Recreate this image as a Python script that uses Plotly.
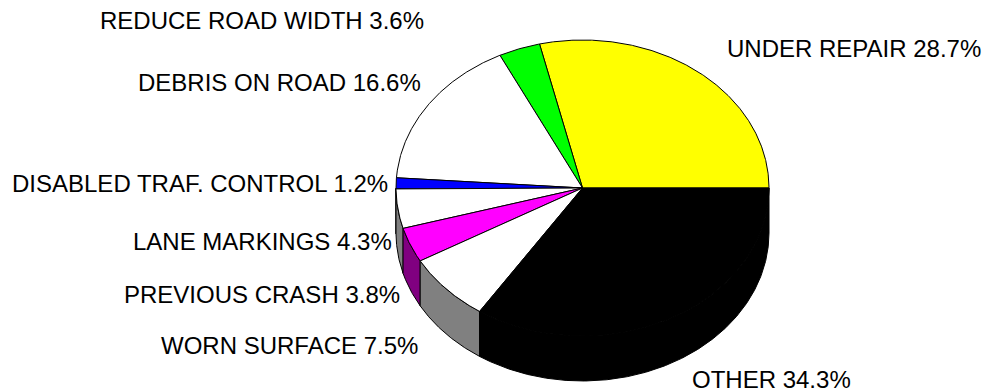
import numpy as np
import plotly.graph_objects as go

# Road-condition factors, in drawing order (counter-clockwise from 3 o'clock)
categories = ["UNDER REPAIR", "REDUCE ROAD WIDTH", "DEBRIS ON ROAD", "DISABLED TRAF. CONTROL",
              "LANE MARKINGS", "PREVIOUS CRASH", "WORN SURFACE", "OTHER"]
shares = [28.7, 3.6, 16.6, 1.2, 4.3, 3.8, 7.5, 34.3]
top_colors = ["#FFFF00", "#00FF00", "#FFFFFF", "#0000FF", "#FFFFFF", "#FF00FF", "#FFFFFF", "#000000"]
side_colors = ["#808000", "#008000", "#808080", "#000080", "#808080", "#800080", "#808080", "#000000"]

# label placement (pixel space): x, y, anchor
label_pos = [(726, 48, "left"), (425, 20, "right"), (422, 82, "right"), (389, 183, "right"),
             (393, 241, "right"), (401, 294, "right"), (419, 345, "right"), (691, 379, "left")]

W, H = 984, 391
CX, CY, RX, RY, DEPTH = 582.5, 188.0, 186.5, 148.0, 45.0


def ell(theta_deg, dy=0.0):
    t = np.radians(theta_deg)
    return CX + RX * np.cos(t), CY - RY * np.sin(t) + dy


fig = go.Figure()

total = sum(shares)
bounds = np.concatenate([[0.0], np.cumsum(shares) / total * 360.0])

# side walls (only the front half, 180..360 degrees, is visible)
for i in range(len(shares)):
    a1, a2 = max(bounds[i], 180.0), min(bounds[i + 1], 360.0)
    if a2 <= a1:
        continue
    th = np.linspace(a1, a2, max(int((a2 - a1) * 3), 2))
    xt, yt = ell(th)
    xb, yb = ell(th[::-1], DEPTH)
    xs = np.concatenate([xt, xb, xt[:1]])
    ys = np.concatenate([yt, yb, yt[:1]])
    fig.add_trace(go.Scatter(x=xs, y=ys, mode="lines", fill="toself",
                             fillcolor=side_colors[i], line=dict(color="#000000", width=1),
                             hoverinfo="skip", showlegend=False))

# top faces
for i in range(len(shares)):
    a1, a2 = bounds[i], bounds[i + 1]
    th = np.linspace(a1, a2, max(int((a2 - a1) * 3), 2))
    xa, ya = ell(th)
    xs = np.concatenate([[CX], xa, [CX]])
    ys = np.concatenate([[CY], ya, [CY]])
    fig.add_trace(go.Scatter(x=xs, y=ys, mode="lines", fill="toself",
                             fillcolor=top_colors[i], line=dict(color="#000000", width=1),
                             hoverinfo="skip", showlegend=False))

for name, val, (lx, ly, anc) in zip(categories, shares, label_pos):
    fig.add_annotation(x=lx, y=ly, xref="x", yref="y", text=f"{name} {val:.1f}%",
                       showarrow=False, xanchor=anc, yanchor="middle", borderpad=0,
                       font=dict(family="Liberation Sans, Arial, sans-serif", size=24, color="#000000"))

fig.update_xaxes(range=[0, W], visible=False, fixedrange=True)
fig.update_yaxes(range=[H, 0], visible=False, fixedrange=True)
fig.update_layout(width=W, height=H, margin=dict(l=0, r=0, t=0, b=0),
                  paper_bgcolor="#FFFFFF", plot_bgcolor="#FFFFFF", showlegend=False)

fig.write_html("out.html")
